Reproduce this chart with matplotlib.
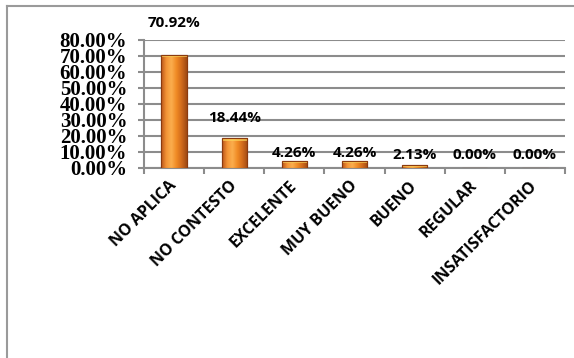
import matplotlib
matplotlib.use("Agg")
import matplotlib.pyplot as plt
import numpy as np
from matplotlib.lines import Line2D
from matplotlib.colors import LinearSegmentedColormap

# data
categorias = ["NO APLICA", "NO CONTESTO", "EXCELENTE", "MUY BUENO",
              "BUENO", "REGULAR", "INSATISFACTORIO"]
porcentajes = [70.92, 18.44, 4.26, 4.26, 2.13, 0.00, 0.00]
y_ticks = [0, 10, 20, 30, 40, 50, 60, 70, 80]

# how far above each bar the value label sits (in % units)
label_offsets = [19.4, 12.8, 5.1, 5.1, 6.0, 8.1, 8.1]

fig = plt.figure(figsize=(5.74, 3.58), dpi=100)
ax = fig.add_axes([144/574, 1 - 168/358, 421/574, 128/358])

x = np.arange(len(categorias))
bars = ax.bar(x, porcentajes, width=0.42, color="#F08A24",
              edgecolor="#8B3A0F", linewidth=0.8, zorder=3)

# fake the excel 3d cylinder shading
shade = LinearSegmentedColormap.from_list(
    "shade", ["#B9541A", "#F49436", "#FBAE4E", "#F08A24", "#D06A1C", "#A04A14"])
grad = np.linspace(0, 1, 64).reshape(1, -1)
for b in bars:
    h = b.get_height()
    if h <= 0:
        continue
    x0, w = b.get_x(), b.get_width()
    im = ax.imshow(grad, cmap=shade, aspect="auto", zorder=3.5,
                   extent=[x0, x0 + w, 0, h], interpolation="bicubic")
    im.set_clip_path(b)
    # yellowish cap on top
    cap = min(h, 1.4)
    ax.bar(x0 + w / 2, cap, bottom=h - cap, width=w, color="#FBD45A",
           alpha=0.7, linewidth=0, zorder=3.6)
    ax.bar(x0 + w / 2, h, width=w, fill=False, edgecolor="#8B3A0F",
           linewidth=0.8, zorder=3.7)

for xi, v, off in zip(x, porcentajes, label_offsets):
    ax.text(xi, v + off, f"{v:.2f}%", ha="center", va="center",
            fontsize=11, fontweight="bold", family="Open Sans", clip_on=False)

ax.set_xlim(-0.5, len(categorias) - 0.5)
ax.set_ylim(0, 80)
ax.set_yticks(y_ticks)
ax.set_yticklabels([f"{t:.2f}%" for t in y_ticks], fontsize=15,
                   fontweight="bold", family="Liberation Serif")
ax.yaxis.grid(True, color="#8C8C8C", linewidth=1.5, zorder=0)
ax.set_axisbelow(True)

ax.set_xticks(x)
ax.set_xticklabels(categorias, rotation=45, ha="right", va="center",
                   rotation_mode="anchor", fontsize=11.5, fontweight="bold",
                   family="Open Sans")
ax.set_xticks(np.arange(len(categorias) + 1) - 0.5, minor=True)
ax.tick_params(axis="x", which="major", length=0, pad=11)
ax.tick_params(axis="x", which="minor", length=4, width=1.5, color="#8C8C8C")
ax.tick_params(axis="y", length=4, width=1.5, color="#8C8C8C", pad=8)

for s in ["top", "right"]:
    ax.spines[s].set_visible(False)
for s in ["left", "bottom"]:
    ax.spines[s].set_color("#8C8C8C")
    ax.spines[s].set_linewidth(1.5)

# outer chart frame (only left and top show in the crop)
fig.add_artist(Line2D([7/574, 7/574], [0, 1 - 6/358], color="#9A9A9A",
                      linewidth=1.5, transform=fig.transFigure))
fig.add_artist(Line2D([7/574, 1], [1 - 6/358, 1 - 6/358], color="#9A9A9A",
                      linewidth=1.5, transform=fig.transFigure))

fig.savefig("out.png", dpi=100)
